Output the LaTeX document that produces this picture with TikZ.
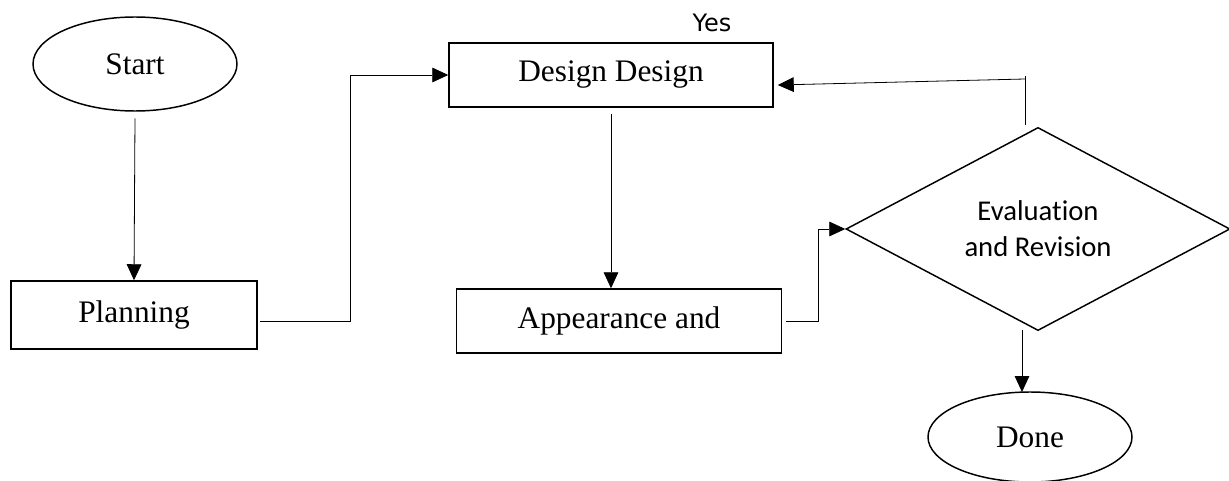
\documentclass[tikz,border=0pt]{standalone}
\usepackage{fontspec}
\setmainfont{Liberation Serif}
\newfontfamily\calib[Ligatures=NoCommon]{Carlito}
\newfontfamily\dejav{DejaVu Sans}
\usetikzlibrary{shapes.geometric,arrows.meta,calc}
\tikzset{
  boxnode/.style={draw,line width=1.1pt,rectangle,inner sep=0pt,font=\fontsize{23.5}{28}\selectfont},
  ovalnode/.style={draw,line width=1.1pt,ellipse,inner sep=0pt,font=\fontsize{23.5}{28}\selectfont},
  decnode/.style={draw,line width=1.1pt,diamond,inner sep=0pt,font=\calib\fontsize{21.5}{27}\selectfont,align=center},
  conn/.style={draw,line width=0.6pt,-{Triangle[length=12pt,width=11pt]}},
  plainconn/.style={draw,line width=0.6pt}
}
\begin{document}
\begin{tikzpicture}[x=0.75pt,y=-0.75pt]
\useasboundingbox (0,0) rectangle (1229,481);
\node[ovalnode,minimum width=153pt,minimum height=70.5pt] (start) at (135,64) {Start};
\node[boxnode,minimum width=184.5pt,minimum height=51pt] (plan) at (134,315) {Planning};
\node[boxnode,minimum width=243pt,minimum height=48pt] (design) at (611,75) {Design Design};
\node[boxnode,minimum width=243.75pt,minimum height=48pt] (app) at (619,321) {Appearance and};
\node[decnode,minimum width=288pt,minimum height=148pt] (eval) at (1038,229) {Evaluation\\and Revision};
\node[ovalnode,minimum width=153pt,minimum height=67.5pt] (done) at (1030,437) {Done};
\node[font=\dejav\fontsize{18}{21}\selectfont,inner sep=0pt] (yes) at (712,23) {Yes};

\coordinate (k1) at (350,75);
\coordinate (k2) at (818,321);
\coordinate (fb1) at (1025,125);
\coordinate (fb2) at (1025,79);
\coordinate (d1) at (1022,330);
\coordinate (d2) at (1022,392);

\draw[conn] ([yshift=-5pt]start.south) -- (plan.north);
\draw[conn] ([xshift=2pt,yshift=-4.5pt]plan.east) -| (k1) -- (design.west);
\draw[conn] ([yshift=-5pt]design.south) -- (app.north -| design.south);
\draw[conn] ([xshift=3pt]app.east) -| (k2 |- eval.west) -- (eval.west);
\draw[plainconn] (fb1) -- ([yshift=2pt]fb2);
\draw[conn] (fb2) -- ([xshift=3pt,yshift=-7.5pt]design.east);
\draw[conn] (d1) -- (d2);
\end{tikzpicture}
\end{document}
